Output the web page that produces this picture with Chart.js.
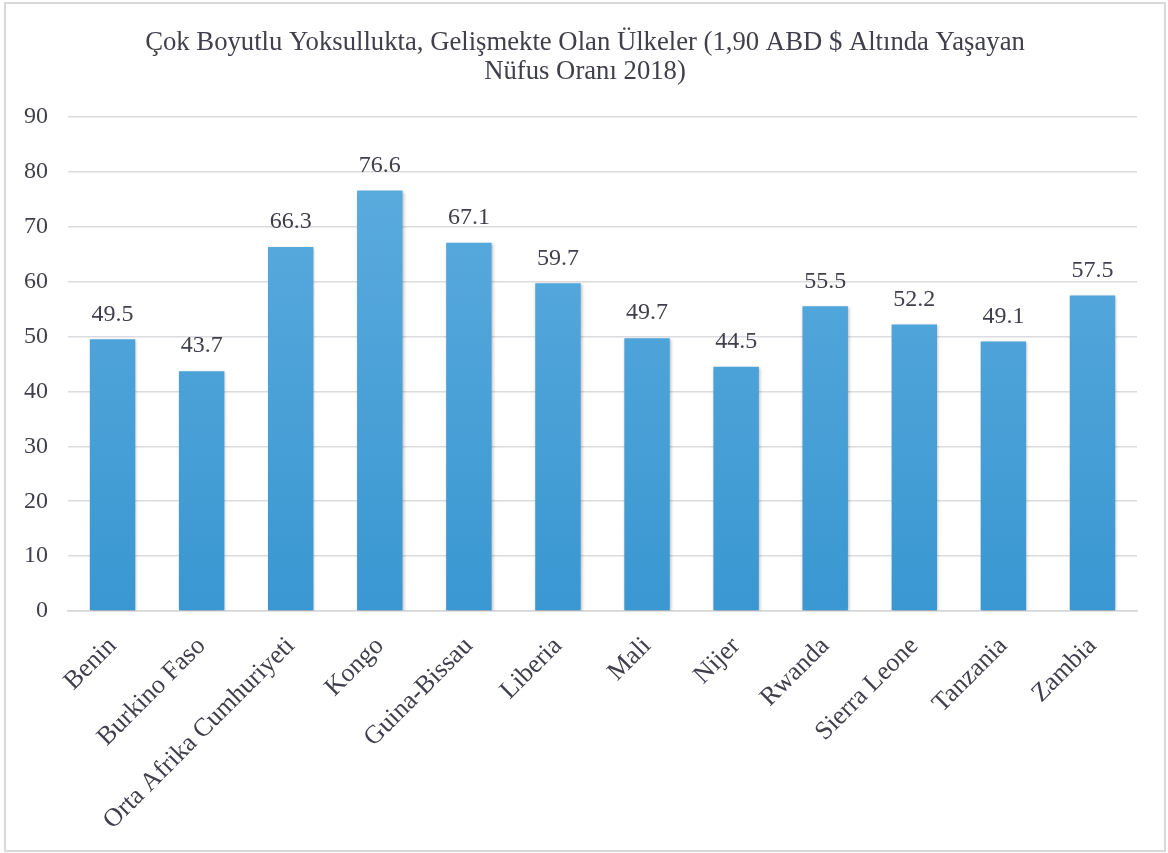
<!DOCTYPE html>
<html>
<head>
<meta charset="utf-8">
<script src="https://cdn.jsdelivr.net/npm/chart.js@4"></script>
<style>
  html, body { margin: 0; padding: 0; background: #fff; }
  #wrap { width: 1168px; height: 853px; }
</style>
</head>
<body>
<div id="wrap"><canvas id="povertyChart" width="1168" height="853"></canvas></div>
<script>
// Chart data
const countries = ['Benin', 'Burkino Faso', 'Orta Afrika Cumhuriyeti', 'Kongo', 'Guina-Bissau', 'Liberia',
    'Mali', 'Nijer', 'Rwanda', 'Sierra Leone', 'Tanzania', 'Zambia'];
const povertyRates = [49.5, 43.7, 66.3, 76.6, 67.1, 59.7, 49.7, 44.5, 55.5, 52.2, 49.1, 57.5];
const yTicks = [0, 10, 20, 30, 40, 50, 60, 70, 80, 90];
const chartTitle = ['Çok Boyutlu Yoksullukta, Gelişmekte Olan Ülkeler (1,90 ABD $ Altında Yaşayan', 'Nüfus Oranı 2018)'];

const textColor = '#40404c';
const serif = "'Liberation Serif', 'Times New Roman', serif";

// Title centred on the whole page (the built-in one centres on the padded box)
const pageTitle = {
    id: 'pageTitle',
    afterDraw(chart) {
        const ctx = chart.ctx;
        ctx.save();
        ctx.fillStyle = textColor;
        ctx.font = '26.7px ' + serif;
        ctx.textAlign = 'center';
        ctx.textBaseline = 'middle';
        chartTitle.forEach((line, i) => {
            ctx.fillText(line, chart.width / 2 + 1, 43 + i * 29);
        });
        ctx.restore();
    }
};

// Frame around the whole picture
const framePlugin = {
    id: 'frame',
    afterDraw(chart) {
        const ctx = chart.ctx;
        ctx.save();
        ctx.strokeStyle = '#d9d9d9';
        ctx.lineWidth = 2;
        ctx.strokeRect(5, 3, 1160, 848);
        ctx.restore();
    }
};

// Soft shadow under bars
const shadowPlugin = {
    id: 'barShadow',
    beforeDatasetsDraw(chart) {
        const ctx = chart.ctx;
        ctx.save();
        ctx.shadowColor = 'rgba(0, 0, 0, 0.28)';
        ctx.shadowBlur = 3;
        ctx.shadowOffsetX = 1;
        ctx.shadowOffsetY = 1;
    },
    afterDatasetsDraw(chart) {
        chart.ctx.restore();
    }
};

// Value labels above each bar
const valueLabels = {
    id: 'valueLabels',
    afterDatasetsDraw(chart) {
        const ctx = chart.ctx;
        const meta = chart.getDatasetMeta(0);
        ctx.save();
        ctx.fillStyle = textColor;
        ctx.font = '24px ' + serif;
        ctx.textAlign = 'center';
        ctx.textBaseline = 'middle';
        meta.data.forEach((bar, i) => {
            ctx.fillText(povertyRates[i].toFixed(1), bar.x, bar.y - 25);
        });
        ctx.restore();
    }
};

const ctx = document.getElementById('povertyChart').getContext('2d');

function barGradient(context) {
    const area = context.chart.chartArea;
    if (!area) return '#4da3dc';
    const g = context.chart.ctx.createLinearGradient(0, area.top, 0, area.bottom);
    g.addColorStop(0, '#5eaee0');
    g.addColorStop(1, '#3a97d1');
    return g;
}

new Chart(ctx, {
    type: 'bar',
    data: {
        labels: countries,
        datasets: [{
            data: povertyRates,
            backgroundColor: barGradient,
            borderWidth: 0,
            barPercentage: 0.51,
            categoryPercentage: 1
        }]
    },
    options: {
        responsive: false,
        animation: false,
        devicePixelRatio: 1,
        layout: {
            padding: { left: 0, right: 31, top: 117, bottom: 0 }
        },
        plugins: {
            legend: { display: false },
            tooltip: { enabled: false },
            title: { display: false }
        },
        scales: {
            y: {
                min: 0,
                max: 90,
                afterBuildTicks(scale) {
                    scale.ticks = yTicks.map(v => ({ value: v }));
                },
                afterFit(scale) {
                    scale.width = 68;
                },
                border: { display: false },
                grid: {
                    color: '#dcdce0',
                    lineWidth: 1.5,
                    drawTicks: false
                },
                ticks: {
                    color: textColor,
                    padding: 20,
                    font: { family: serif, size: 24 }
                }
            },
            x: {
                afterFit(scale) {
                    scale.height = 242;
                },
                border: { color: '#d6d6da', width: 1.5 },
                grid: { display: false },
                ticks: {
                    color: textColor,
                    minRotation: 45,
                    maxRotation: 45,
                    autoSkip: false,
                    padding: 12,
                    font: { family: serif, size: 26 }
                }
            }
        }
    },
    plugins: [shadowPlugin, valueLabels, pageTitle, framePlugin]
});
</script>
</body>
</html>
